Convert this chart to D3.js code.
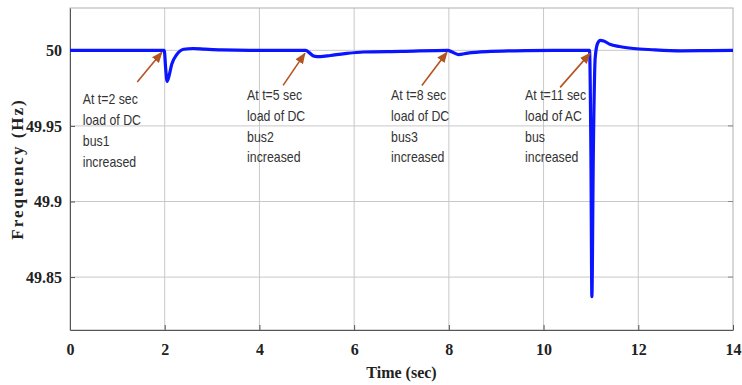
<!DOCTYPE html>
<html>
<head>
<meta charset="utf-8">
<script src="https://cdn.jsdelivr.net/npm/d3@7"></script>
<style>
  body { margin: 0; background: #fff; }
  .note { font-family: "Liberation Sans", Arial, sans-serif; font-size: 14px; fill: #333; }
</style>
</head>
<body>
<div id="chart"></div>
<script>
// frequency trace
const timeSec = [0, 1.99, 2.02, 2.05, 2.09, 2.15, 2.25, 2.4, 2.6, 2.85, 3.2, 3.8, 4.98,
  5.05, 5.15, 5.28, 5.5, 5.8, 6.2, 7.0, 7.98, 8.06, 8.2, 8.4, 8.8, 9.4, 10.2, 10.97,
  11.0, 11.02, 11.05, 11.09, 11.14, 11.2, 11.27, 11.4, 11.6, 11.9, 12.3, 12.9, 13.5, 14];
const freqHz = [50, 50, 49.988, 49.9795, 49.983, 49.991, 49.997, 50.0007, 50.0012, 50.0008, 50.0003, 50, 50,
  49.9985, 49.9962, 49.9958, 49.9966, 49.9978, 49.9989, 49.9993, 50, 49.999, 49.9972, 49.9982, 49.9992, 49.9997, 50, 50,
  49.93, 49.837, 49.93, 49.995, 50.0045, 50.0066, 50.0062, 50.004, 50.0025, 50.0012, 50.0004, 49.9997, 49.9998, 50];

const xTicks = [0, 2, 4, 6, 8, 10, 12, 14];
const yTicks = [49.85, 49.9, 49.95, 50];
const yLabels = ["49.85", "49.9", "49.95", "50"];

// annotations: arrow tail / head (t, f), text anchor (t, f)
const noteTail = [[1.42, 49.979], [4.5, 49.9768], [7.43, 49.9768], [10.35, 49.9755]];
const noteHead = [[1.94, 49.9987], [4.96, 49.998], [7.96, 49.9987], [10.98, 49.998]];
const noteTextT = [0.27, 3.74, 6.78, 9.61];
const noteTextF = [49.9642, 49.9669, 49.9669, 49.9669];
const noteLines = [
  ["At t=2 sec", "load of DC", "bus1", "increased"],
  ["At t=5 sec", "load of DC", "bus2", "increased"],
  ["At t=8 sec", "load of DC", "bus3", "increased"],
  ["At t=11 sec", "load of AC", "bus", "increased"]
];

const W = 742, H = 385;
const m = {left: 70, right: 9, top: 8, bottom: 55};
const iw = W - m.left - m.right, ih = H - m.top - m.bottom;
const serif = "'Liberation Serif', 'Times New Roman', serif";

const svg = d3.select("#chart").append("svg")
  .attr("width", W).attr("height", H);

const x = d3.scaleLinear().domain([0, 14]).range([0, iw]);
const y = d3.scaleLinear().domain([49.815, 50.028]).range([ih, 0]);

const g = svg.append("g").attr("transform", "translate(" + m.left + "," + m.top + ")");

// grid
g.append("g").selectAll("line").data(xTicks.slice(1, -1)).enter().append("line")
  .attr("x1", d => x(d)).attr("x2", d => x(d)).attr("y1", 0).attr("y2", ih)
  .attr("stroke", "#c8c8c8").attr("stroke-width", 1);
g.append("g").selectAll("line").data(yTicks).enter().append("line")
  .attr("x1", 0).attr("x2", iw).attr("y1", d => y(d)).attr("y2", d => y(d))
  .attr("stroke", "#c8c8c8").attr("stroke-width", 1);

// box
g.append("rect").attr("width", iw).attr("height", ih)
  .attr("fill", "none").attr("stroke", "#b0b0b0").attr("stroke-width", 1);

// axes
const xAxis = g.append("g").attr("transform", "translate(0," + ih + ")")
  .call(d3.axisBottom(x).tickValues(xTicks).tickSizeInner(-5).tickSizeOuter(0).tickPadding(14).tickFormat(d3.format("d")));
const yAxis = g.append("g")
  .call(d3.axisLeft(y).tickValues(yTicks).tickSizeInner(-5).tickSizeOuter(0).tickPadding(8)
    .tickFormat((d, i) => yLabels[i]));
[xAxis, yAxis].forEach(ax => {
  ax.attr("font-family", null).attr("font-size", null);
  ax.select(".domain").attr("stroke", "#555");
  ax.selectAll(".tick line").attr("stroke", "#555");
  ax.selectAll(".tick text")
    .style("font-family", serif).style("font-weight", "bold")
    .style("font-size", "16px").style("fill", "#222");
});

// right side ticks
g.append("g").selectAll("line").data(yTicks).enter().append("line")
  .attr("x1", iw).attr("x2", iw - 5).attr("y1", d => y(d)).attr("y2", d => y(d))
  .attr("stroke", "#888");

// arrow marker
svg.append("defs").append("marker")
  .attr("id", "arr").attr("viewBox", "0 0 10 10").attr("refX", 9).attr("refY", 5)
  .attr("markerWidth", 7).attr("markerHeight", 7).attr("orient", "auto")
  .append("path").attr("d", "M0,1 L10,5 L0,9 Z").attr("fill", "#b4531f");

// line
const pts = timeSec.map((t, i) => [t, freqHz[i]]);
g.append("path").datum(pts)
  .attr("fill", "none").attr("stroke", "#0a14ff").attr("stroke-width", 3.2)
  .attr("stroke-linejoin", "round")
  .attr("d", d3.line().x(d => x(d[0])).y(d => y(d[1])).curve(d3.curveMonotoneX));

// annotations
noteLines.forEach((lines, i) => {
  g.append("line")
    .attr("x1", x(noteTail[i][0])).attr("y1", y(noteTail[i][1]))
    .attr("x2", x(noteHead[i][0])).attr("y2", y(noteHead[i][1]))
    .attr("stroke", "#b4531f").attr("stroke-width", 1.6)
    .attr("marker-end", "url(#arr)");
  const txt = g.append("g")
    .attr("transform", "translate(" + x(noteTextT[i]) + "," + y(noteTextF[i]) + ") scale(0.88,1)")
    .append("text").attr("class", "note");
  lines.forEach((s, k) => {
    txt.append("tspan").attr("x", 0).attr("y", k * 20.7).text(s);
  });
});

// axis titles
svg.append("text")
  .attr("x", m.left + iw / 2).attr("y", 378)
  .attr("text-anchor", "middle")
  .style("font-family", serif)
  .style("font-weight", "bold").style("font-size", "16px").style("fill", "#222")
  .text("Time (sec)");

svg.append("text")
  .attr("transform", "translate(23," + (m.top + ih / 2) + ") rotate(-90)")
  .attr("text-anchor", "middle")
  .style("font-family", serif)
  .style("font-weight", "bold").style("font-size", "17px").style("letter-spacing", "2px").style("fill", "#222")
  .text("Frequency (Hz)");
</script>
</body>
</html>
